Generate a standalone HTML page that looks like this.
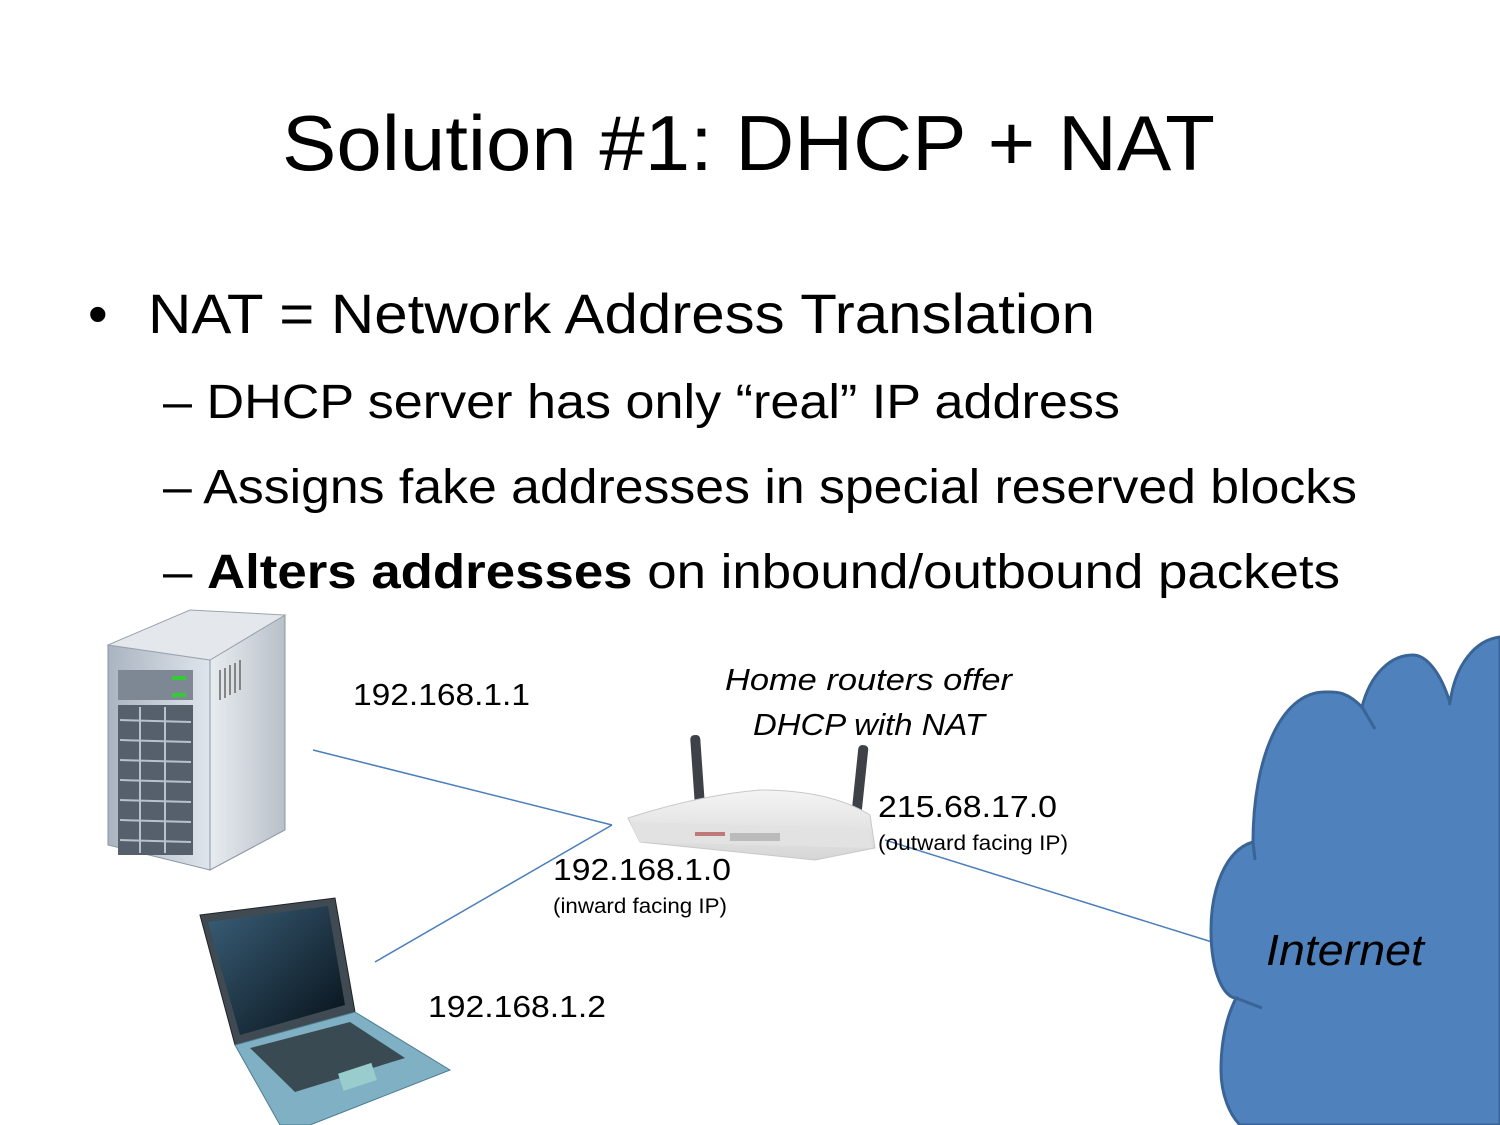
<!DOCTYPE html>
<html><head><style>body{margin:0;background:#fff}svg{display:block}</style></head><body>
<svg width="1500" height="1125" viewBox="0 0 1500 1125" xmlns="http://www.w3.org/2000/svg" font-family="'Liberation Sans', sans-serif">
<defs>
<linearGradient id="srvF" x1="0" x2="1"><stop offset="0" stop-color="#aab4c0"/><stop offset="1" stop-color="#dfe5ec"/></linearGradient>
<linearGradient id="srvS" x1="0" x2="1"><stop offset="0" stop-color="#e8ecf0"/><stop offset="1" stop-color="#b8c0c8"/></linearGradient>
<linearGradient id="scr" x1="0" y1="0" x2="1" y2="1"><stop offset="0" stop-color="#3a5f78"/><stop offset="1" stop-color="#061018"/></linearGradient>
<linearGradient id="rt" x1="0" y1="0" x2="0" y2="1"><stop offset="0" stop-color="#f4f4f4"/><stop offset="1" stop-color="#d6d6d6"/></linearGradient>
</defs>
<text x="282" y="170" font-size="78" textLength="933" lengthAdjust="spacingAndGlyphs">Solution #1:  DHCP + NAT</text>
<text x="88" y="333" font-size="56">•</text>
<text x="148" y="333" font-size="56" textLength="947" lengthAdjust="spacingAndGlyphs">NAT = Network Address Translation</text>
<text x="163" y="418" font-size="48" textLength="957" lengthAdjust="spacingAndGlyphs">– DHCP server has only “real” IP address</text>
<text x="163" y="503" font-size="48" textLength="1194" lengthAdjust="spacingAndGlyphs">– Assigns fake addresses in special reserved blocks</text>
<text x="163" y="588" font-size="48" textLength="1177" lengthAdjust="spacingAndGlyphs">– <tspan font-weight="bold">Alters addresses</tspan> on inbound/outbound packets</text>

<!-- server -->
<polygon points="108,645 210,660 210,870 108,845" fill="url(#srvF)" stroke="#8a96a2"/>
<polygon points="210,660 285,615 285,830 210,870" fill="url(#srvS)" stroke="#8a96a2"/>
<polygon points="108,645 190,610 285,615 210,660" fill="#e4e8ec" stroke="#9aa4ae"/>
<rect x="118" y="670" width="75" height="30" fill="#7d8894"/>
<rect x="172" y="676" width="14" height="4" fill="#3c3"/><rect x="172" y="693" width="14" height="4" fill="#3c3"/>
<rect x="118" y="705" width="75" height="150" fill="#55606c"/>
<g stroke="#b8c2cc" stroke-width="2"><line x1="120" y1="720" x2="191" y2="722"/><line x1="120" y1="740" x2="191" y2="742"/><line x1="120" y1="760" x2="191" y2="762"/><line x1="120" y1="780" x2="191" y2="782"/><line x1="120" y1="800" x2="191" y2="802"/><line x1="120" y1="820" x2="191" y2="822"/><line x1="120" y1="840" x2="191" y2="842"/><line x1="140" y1="707" x2="140" y2="853"/><line x1="165" y1="707" x2="165" y2="853"/></g>
<g stroke="#666" stroke-width="1.5"><line x1="220" y1="670" x2="220" y2="700"/><line x1="225" y1="668" x2="225" y2="698"/><line x1="230" y1="665" x2="230" y2="695"/><line x1="235" y1="663" x2="235" y2="693"/><line x1="240" y1="660" x2="240" y2="690"/></g>

<!-- laptop -->
<polygon points="200,915 335,898 355,1012 235,1045" fill="#3f4a52" stroke="#222"/>
<polygon points="208,922 328,906 345,1005 240,1035" fill="url(#scr)"/>
<polygon points="235,1045 355,1012 450,1070 310,1125 280,1125" fill="#7fb0c4" stroke="#4d7d90"/>
<polygon points="250,1048 350,1022 405,1058 295,1092" fill="#3a4a52"/>
<rect x="340" y="1068" width="35" height="18" fill="#9cc" transform="rotate(-18 357 1077)"/>

<!-- router -->
<rect x="693" y="735" width="10" height="85" rx="4" fill="#3e4248" transform="rotate(-4 698 778)"/>
<rect x="855" y="745" width="10" height="70" rx="4" fill="#3e4248" transform="rotate(6 860 780)"/>
<path d="M628,818 Q700,795 760,790 Q830,790 870,815 L875,848 L815,860 L640,842 Z" fill="url(#rt)" stroke="#c8c8c8"/>
<path d="M630,822 L870,828 L872,848 L640,842 Z" fill="#e2e2e2"/>
<rect x="695" y="832" width="30" height="4" fill="#a33" opacity="0.6"/>
<rect x="730" y="833" width="50" height="8" fill="#bbb"/>

<!-- lines -->
<g stroke="#4a7ebb" stroke-width="1.5" fill="none"><line x1="313" y1="750" x2="612" y2="825"/><line x1="612" y1="825" x2="375" y2="962"/><line x1="885" y1="840" x2="1212" y2="942"/></g>

<!-- cloud -->
<path d="M1500,637 C1475,640 1455,665 1450,703 C1440,670 1425,655 1413,655 C1390,655 1370,675 1362,707 C1345,690 1335,692 1325,692 C1280,692 1253,760 1253,842 C1225,850 1211,890 1211,930 C1211,975 1225,998 1236,998 C1225,1020 1221,1045 1221,1070 C1221,1095 1230,1115 1240,1125 L1500,1125 Z" fill="#4f81bd" stroke="#3a6496" stroke-width="3"/>
<path d="M1450,703 L1449,705 M1362,707 L1375,729 M1253,842 L1255,860 M1236,998 L1262,1008" stroke="#3a6496" stroke-width="3" fill="none"/>

<!-- labels -->
<g font-family="'Liberation Sans', sans-serif" fill="#000">
<text x="353" y="705" font-size="31" textLength="177" lengthAdjust="spacingAndGlyphs">192.168.1.1</text>
<text x="725" y="690" font-size="31" font-style="italic" textLength="287" lengthAdjust="spacingAndGlyphs">Home routers offer</text>
<text x="753" y="735" font-size="31" font-style="italic" textLength="232" lengthAdjust="spacingAndGlyphs">DHCP with NAT</text>
<text x="878" y="817" font-size="31" textLength="179" lengthAdjust="spacingAndGlyphs">215.68.17.0</text>
<text x="878" y="850" font-size="21" textLength="190" lengthAdjust="spacingAndGlyphs">(outward facing IP)</text>
<text x="553" y="880" font-size="31" textLength="178" lengthAdjust="spacingAndGlyphs">192.168.1.0</text>
<text x="553" y="913" font-size="21" textLength="174" lengthAdjust="spacingAndGlyphs">(inward facing IP)</text>
<text x="428" y="1017" font-size="31" textLength="178" lengthAdjust="spacingAndGlyphs">192.168.1.2</text>
<text x="1266" y="965" font-size="44" font-style="italic" textLength="158" lengthAdjust="spacingAndGlyphs">Internet</text>
</g>
</svg>
</body></html>
